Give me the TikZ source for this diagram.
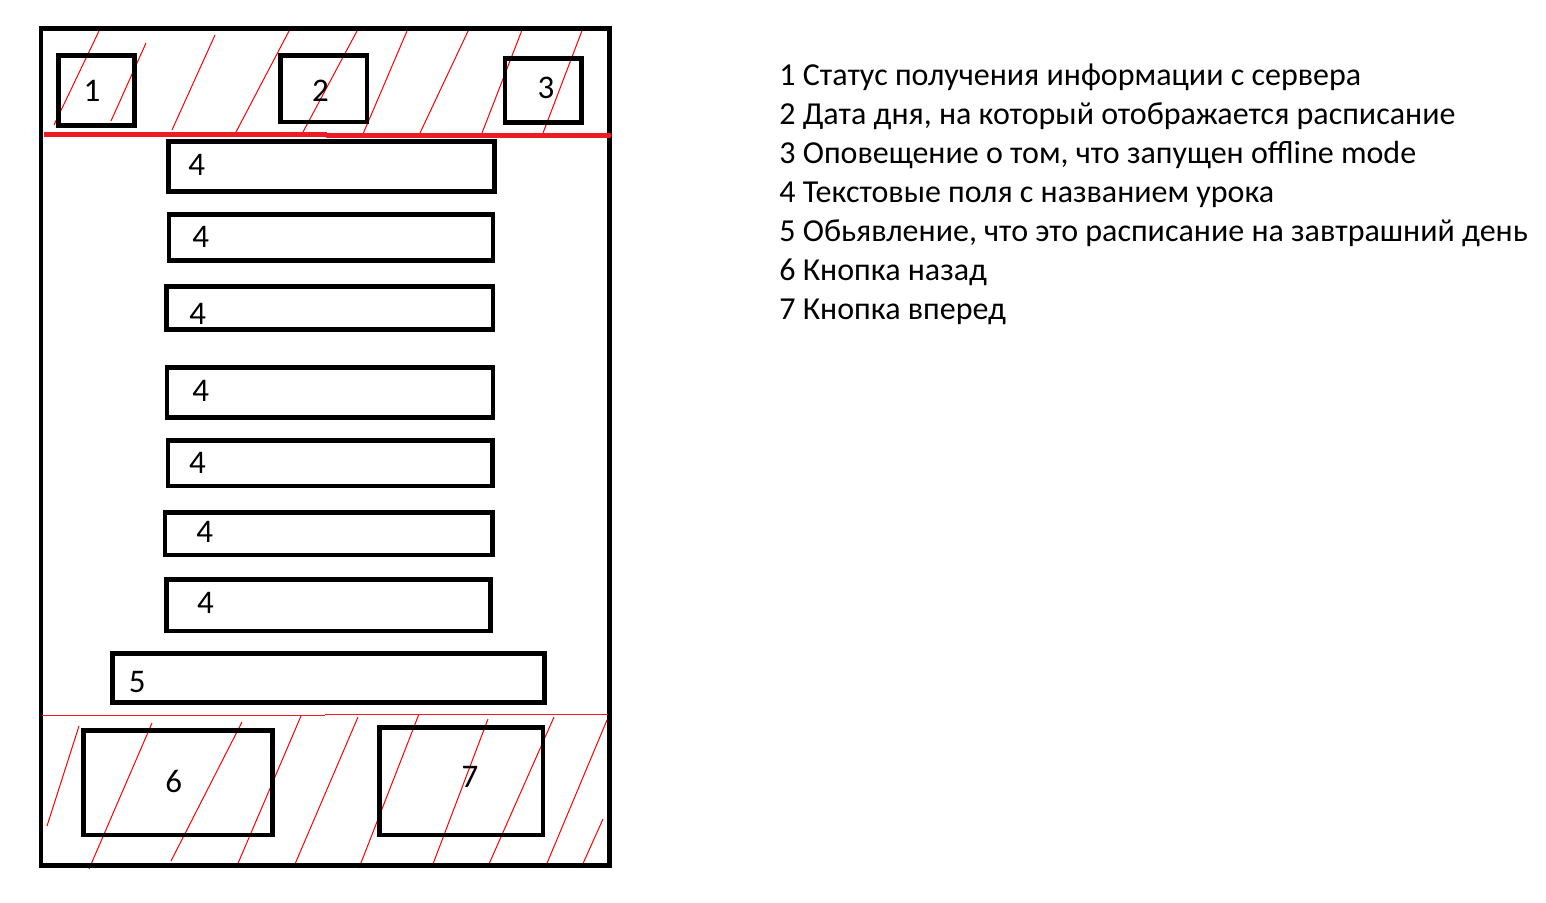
\documentclass[tikz,border=0pt]{standalone}
\usepackage{fontspec}
\setmainfont{Carlito}
\definecolor{pred}{RGB}{237,28,36}
\definecolor{hred}{RGB}{255,0,0}
\begin{document}
\begin{tikzpicture}[x=0.5pt,y=-0.5pt,
  box/.style={draw=black,line width=2.25pt},
  frame/.style={draw=black,line width=2.3pt},
  hatch/.style={draw=hred,line width=0.5pt},
  sep/.style={draw=pred,line width=2.25pt},
  thinsep/.style={draw=pred,line width=0.55pt},
  lbl/.style={inner sep=0pt,font=\fontsize{16.5}{20}\selectfont},
  legend/.style={inner sep=0pt,anchor=base west,font=\fontsize{16}{20}\selectfont}]
\useasboundingbox (0,0) rectangle (1546,902);
\fill[white] (0,0) rectangle (1546,902);
% header hatching
\foreach \a/\b/\c/\d in {54/125/99/31, 111/121/146/43, 172/130/215/35, 236/132/289/31,
  303/132/357/31, 363/134/407/31, 420/133/469/29, 482/133/522/30, 543/133/583/28}
  \draw[hatch] (\a,\b) -- (\c,\d);
% footer hatching
\foreach \a/\b/\c/\d in {47/826/79/726, 89/869/152/723, 171/861/242/722, 236/868/301/716,
  295/864/358/717, 359/868/419/714, 433/864/488/719, 489/864/554/717, 545/868/607/720,
  581/868/603/819}
  \draw[hatch] (\a,\b) -- (\c,\d);
% outer frame
\draw[frame] (41,28.7) rectangle (609.7,865.3);
% red separators
\draw[sep] (44.3,134.3) -- (327,134.3);
\draw[sep,line cap=round] (327,135.3) -- (609.5,135.3);
\draw[thinsep] (42.3,715.3) -- (325,715.3);
\draw[thinsep] (325,714.3) -- (607.5,714.3);
% header boxes
\draw[box] (58.3,55.3) rectangle (134.3,125.3);
\draw[box] (280.5,55.3) rectangle (367,122);
\draw[box] (505,58.3) rectangle (581.7,122.3);
\node[lbl] (n1) at (92,91) {1};
\node[lbl] (n2) at (320.5,91) {2};
\node[lbl] (n3) at (546,88.3) {3};
% lesson fields
\draw[box] (168.3,141.3) rectangle (494.3,191.3);
\draw[box] (169,214.3) rectangle (493,260.3);
\draw[box] (166.3,286.3) rectangle (493,329.3);
\draw[box] (167,367.3) rectangle (493,417.7);
\draw[box] (168,440.7) rectangle (492.3,486);
\draw[box] (165,512.3) rectangle (492.3,555);
\draw[box] (166.7,579.7) rectangle (490.3,631);
\node[lbl] (f1) at (196.7,164.7) {4};
\node[lbl] (f2) at (200.8,237) {4};
\node[lbl] (f3) at (197.7,313.7) {4};
\node[lbl] (f4) at (200.8,391.2) {4};
\node[lbl] (f5) at (197.5,462.8) {4};
\node[lbl] (f6) at (204.7,532) {4};
\node[lbl] (f7) at (205.5,602.8) {4};
% announcement
\draw[box] (112.3,653.3) rectangle (544.3,702.7);
\node[lbl] (n5) at (137.3,681.7) {5};
% footer buttons
\draw[box] (83.3,730.7) rectangle (272.3,835);
\draw[box] (379.7,727.7) rectangle (543,835);
\node[lbl] (n6) at (173.8,781) {6};
\node[lbl] (n7) at (470,777) {7};
% legend
\node[legend] (l1) at (779,85.5) {1 Статус получения информации с сервера};
\node[legend] (l2) at (779,124.5) {2 Дата дня, на который отображается расписание};
\node[legend] (l3) at (779,163.5) {3 Оповещение о том, что запущен offline mode};
\node[legend] (l4) at (779,202.5) {4 Текстовые поля с названием урока};
\node[legend] (l5) at (779,241.5) {5 Обьявление, что это расписание на завтрашний день};
\node[legend] (l6) at (779,280.5) {6 Кнопка назад};
\node[legend] (l7) at (779,319.5) {7 Кнопка вперед};
\end{tikzpicture}
\end{document}
